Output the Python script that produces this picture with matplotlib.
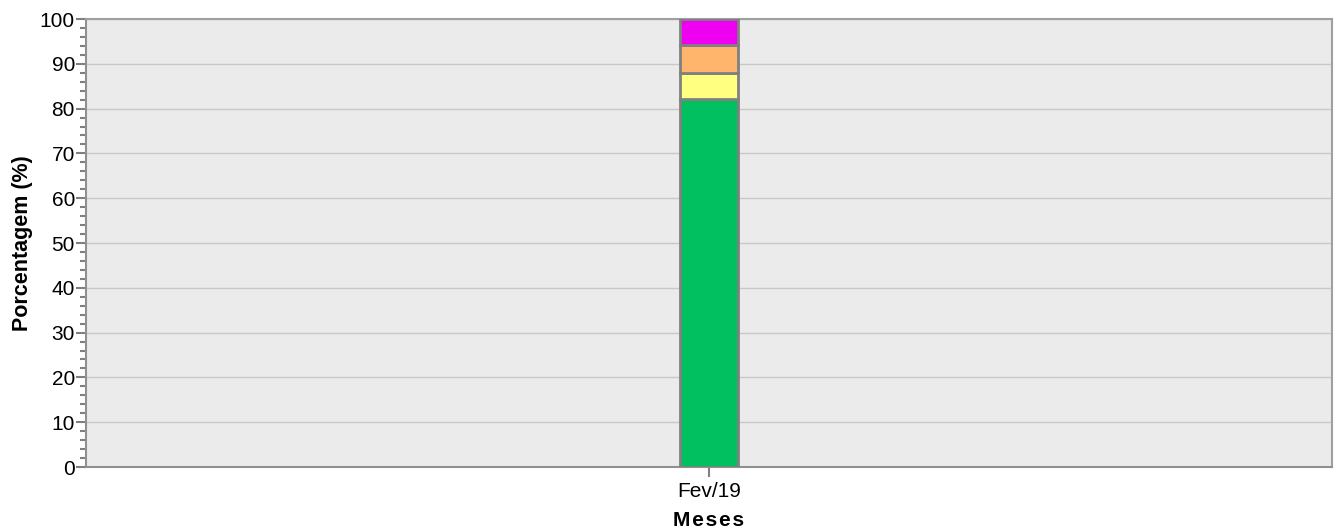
import matplotlib.pyplot as plt
import numpy as np

plt.rcParams['font.family'] = ['Liberation Sans', 'DejaVu Sans']

meses = ["Fev/19"]
verde = [82.1]
amarelo = [5.9]
laranja = [6.3]
magenta = [5.7]

series = [verde, amarelo, laranja, magenta]
cores = ["#00c060", "#ffff80", "#ffb56b", "#f000f0"]

fig = plt.figure(figsize=(13.34, 5.31), dpi=100)
ax = fig.add_axes([0.0645, 0.1205, 0.934, 0.8437])
ax.set_facecolor("#ebebeb")

x = np.arange(len(meses))
base = np.zeros(len(meses))
for vals, cor in zip(series, cores):
    ax.bar(x, vals, width=0.047, bottom=base, color=cor, edgecolor="#808080",
           linewidth=2, zorder=3)
    base = base + np.array(vals)

ax.set_xlim(-0.5, 0.5)
ax.set_ylim(0, 100)
ax.set_xticks(x)
ax.set_xticklabels(meses)
ax.set_yticks(np.arange(0, 101, 10))
ax.set_yticks(np.arange(0, 101, 2), minor=True)
ax.grid(True, axis='y', color="#c8c8c8", linewidth=1, zorder=0)

for s in ax.spines.values():
    s.set_color("#a0a0a0")
    s.set_linewidth(1.5)
ax.spines['left'].set_color("#909090")
ax.spines['bottom'].set_color("#909090")

ax.tick_params(axis='both', which='major', colors="#808080", length=7, width=1.5,
               labelsize=15, labelcolor="black", pad=1)
ax.tick_params(axis='x', which='major', pad=4)
ax.tick_params(axis='y', which='minor', colors="#808080", length=4, width=1.5)

ax.set_xlabel("M e s e s".replace(" ", "\u200a"), fontsize=15, fontweight='bold', labelpad=7)
ax.set_ylabel("Porcentagem (%)", fontsize=15.5, fontweight='bold', labelpad=5)

fig.savefig("out.png", dpi=100)
